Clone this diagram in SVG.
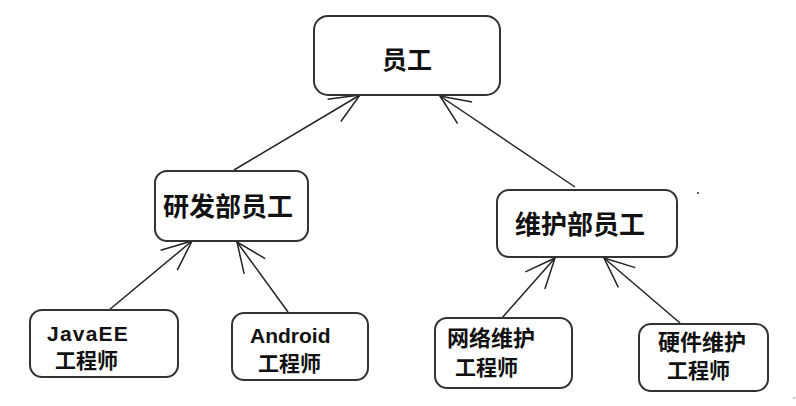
<svg xmlns="http://www.w3.org/2000/svg" width="796" height="406" viewBox="0 0 796 406">
<defs>
<marker id="arr" markerUnits="userSpaceOnUse" markerWidth="40" markerHeight="40" viewBox="-34 -20 40 40" refX="0" refY="0" orient="auto">
<path d="M -30,-13 L 0,0 L -30,13" fill="none" stroke="#222" stroke-width="1.5"/>
</marker>
<style>
.box{fill:#fff;stroke:#333;stroke-width:2}
.cn{font-family:"Noto Sans CJK SC","Noto Sans CJK JP",sans-serif;font-weight:bold;fill:#111}
.en{font-family:"Liberation Sans",Arial,sans-serif;font-weight:bold;fill:#111}
.conn line{stroke:#222;stroke-width:1.5;marker-end:url(#arr)}
</style>
</defs>
<rect width="796" height="406" fill="#fff"/>
<g id="connectors" class="conn">
<line x1="234" y1="170" x2="360" y2="95"/>
<line x1="575" y1="187" x2="440" y2="96"/>
<line x1="103" y1="315" x2="192" y2="241"/>
<line x1="288" y1="312" x2="237" y2="242"/>
<line x1="502" y1="318" x2="555" y2="258"/>
<line x1="680" y1="323" x2="604" y2="258"/>
</g>
<g id="employee">
<rect class="box" x="314" y="16" width="186" height="79" rx="14"/>
<text class="cn" x="407" y="69" font-size="25" text-anchor="middle">员工</text>
</g>
<g id="rd">
<rect class="box" x="155" y="171" width="153" height="70" rx="12"/>
<text class="cn" x="228" y="216" font-size="26" text-anchor="middle">研发部员工</text>
</g>
<g id="maint">
<rect class="box" x="497" y="190" width="180" height="67" rx="12"/>
<text class="cn" x="580" y="234" font-size="26" text-anchor="middle">维护部员工</text>
</g>
<g id="javaee">
<rect class="box" x="30" y="310" width="148" height="67" rx="12"/>
<text class="en" x="47" y="341" font-size="21" letter-spacing="1.2">JavaEE</text>
<text class="cn" x="55" y="368" font-size="21">工程师</text>
</g>
<g id="android">
<rect class="box" x="232" y="313" width="136" height="67" rx="12"/>
<text class="en" x="250" y="343" font-size="21">Android</text>
<text class="cn" x="258" y="371" font-size="21">工程师</text>
</g>
<g id="network">
<rect class="box" x="435" y="318" width="137" height="70" rx="12"/>
<text class="cn" x="447" y="346" font-size="22">网络维护</text>
<text class="cn" x="455" y="375" font-size="21">工程师</text>
</g>
<g id="hardware">
<rect class="box" x="639" y="324" width="129" height="67" rx="12"/>
<text class="cn" x="658" y="350" font-size="22">硬件维护</text>
<text class="cn" x="667" y="378" font-size="21">工程师</text>
</g>
<circle cx="698" cy="193" r="1" fill="#333"/>
<circle cx="794" cy="398" r="0.8" fill="#777"/>
</svg>
